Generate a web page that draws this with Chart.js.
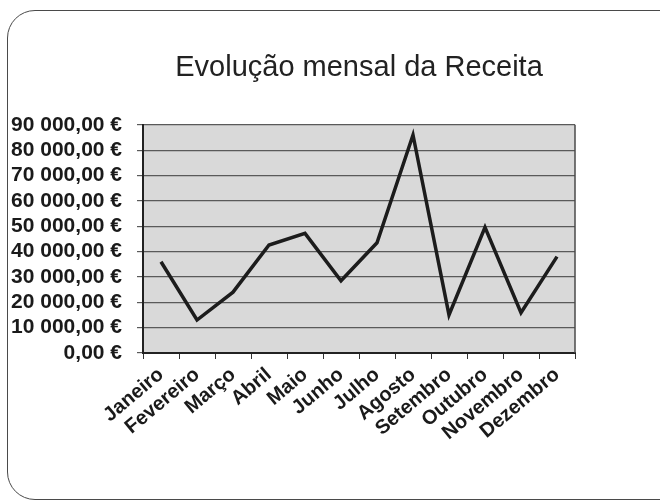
<!DOCTYPE html>
<html>
<head>
<meta charset="utf-8">
<script src="https://cdn.jsdelivr.net/npm/chart.js@4.4.0/dist/chart.umd.min.js"></script>
<style>
  html, body { margin: 0; padding: 0; background: #fff; overflow: hidden; }
  #wrap { position: relative; width: 660px; height: 502px; overflow: hidden; }
  #frame {
    position: absolute; left: 7px; top: 10px; width: 690px; height: 488px;
    border: 1.5px solid #4a4a4a; border-radius: 28px;
  }
  canvas { position: absolute; left: 0; top: 0; }
</style>
</head>
<body>
<div id="wrap">
  <div id="frame"></div>
  <canvas id="receitaChart" width="660" height="502"></canvas>
</div>
<script>
const meses = ["Janeiro", "Fevereiro", "Março", "Abril", "Maio", "Junho",
  "Julho", "Agosto", "Setembro", "Outubro", "Novembro", "Dezembro"];
const receita = [36000, 13000, 24000, 42600, 47200, 28500,
  43500, 86000, 15000, 49600, 15900, 38000];
const yMin = 0;
const yMax = 90000;
const yStep = 10000;

const fontFamily = "'Liberation Sans', Arial, sans-serif";

// "90000" -> "90 000,00 €"
function euro(v) {
  const s = Math.round(v).toString().replace(/\B(?=(\d{3})+(?!\d))/g, " ");
  return s + ",00 €";
}

// grey plot background + right edge of the plot box
const plotArea = {
  id: "plotArea",
  beforeDraw(chart) {
    const { ctx, chartArea: a } = chart;
    ctx.save();
    ctx.fillStyle = "#d9d9d9";
    ctx.fillRect(a.left, a.top, a.right - a.left, a.bottom - a.top);
    ctx.restore();
  },
  beforeDatasetsDraw(chart) {
    const { ctx, chartArea: a } = chart;
    ctx.save();
    ctx.strokeStyle = "#4a4a4a";
    ctx.lineWidth = 1.5;
    ctx.beginPath();
    ctx.moveTo(a.right, a.top);
    ctx.lineTo(a.right, a.bottom);
    ctx.stroke();
    ctx.restore();
  },
};

const config = {
  type: "line",
  data: {
    labels: meses,
    datasets: [
      {
        label: "Receita",
        data: receita,
        borderColor: "#1c1c1c",
        borderWidth: 3.5,
        borderJoinStyle: "miter",
        pointRadius: 0,
        tension: 0,
        fill: false,
      },
    ],
  },
  options: {
    responsive: false,
    animation: false,
    layout: {
      padding: { left: 10, right: 85, top: 10, bottom: 0 },
    },
    plugins: {
      legend: { display: false },
      tooltip: { enabled: false },
      title: {
        display: true,
        text: "Evolução mensal da Receita",
        fullSize: false,
        color: "#222",
        font: { family: fontFamily, size: 29, weight: "normal" },
        padding: { top: 41, bottom: 39 },
      },
    },
    scales: {
      x: {
        offset: true,
        grid: {
          offset: true,
          drawOnChartArea: false,
          drawTicks: true,
          tickLength: 6,
          color: "#333",
        },
        border: { display: true, color: "#222", width: 2 },
        ticks: {
          autoSkip: false,
          minRotation: 40,
          maxRotation: 40,
          padding: 4,
          color: "#1a1a1a",
          font: { family: fontFamily, size: 20, weight: "bold" },
        },
        afterFit(scale) {
          scale.height = 149;
        },
      },
      y: {
        min: yMin,
        max: yMax,
        ticks: {
          stepSize: yStep,
          autoSkip: false,
          padding: 15,
          color: "#1a1a1a",
          font: { family: fontFamily, size: 21, weight: "bold", lineHeight: 1 },
          callback: (value) => euro(value),
        },
        grid: {
          color: "#5a5a5a",
          lineWidth: 1.2,
          tickLength: 6,
        },
        border: { display: true, color: "#222", width: 2 },
        afterFit(scale) {
          scale.width = 133;
        },
      },
    },
  },
  plugins: [plotArea],
};

var receitaChart = new Chart(document.getElementById("receitaChart"), config);
</script>
</body>
</html>
